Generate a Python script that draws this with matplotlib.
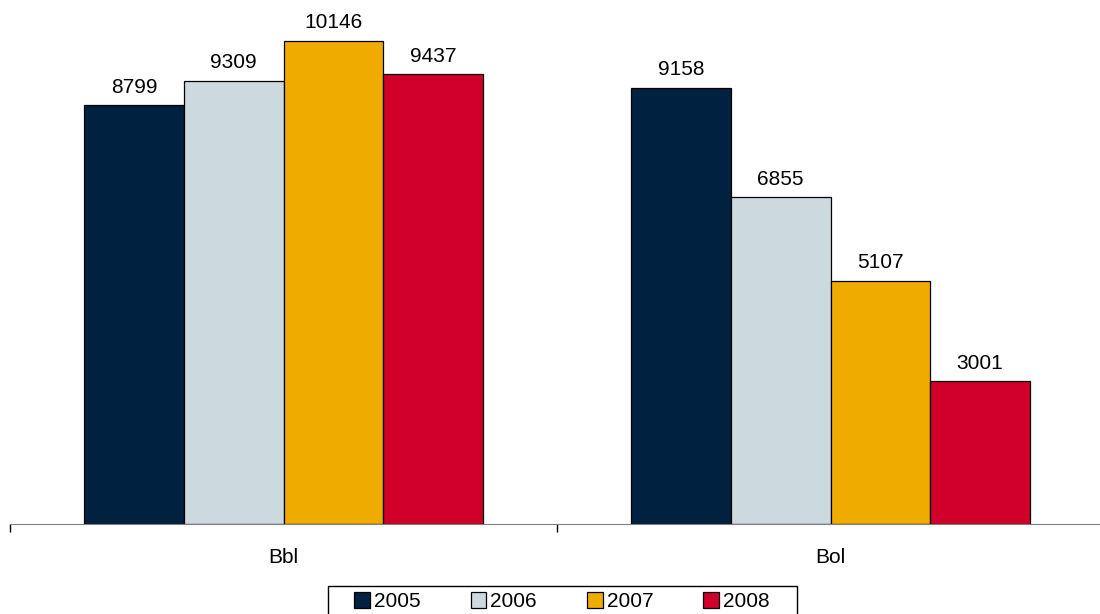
import matplotlib.pyplot as plt
from matplotlib.patches import Rectangle
import numpy as np

plt.rcParams['font.family'] = ['Liberation Sans', 'DejaVu Sans']

categories = ['Bbl', 'Bol']
years = ['2005', '2006', '2007', '2008']
values = {
    '2005': [8799, 9158],
    '2006': [9309, 6855],
    '2007': [10146, 5107],
    '2008': [9437, 3001],
}
colors = ['#00213F', '#CCDADF', '#F0AB00', '#D0002B']

fig = plt.figure(figsize=(11, 6.14), dpi=100)
ax = fig.add_axes([10 / 1100, 90 / 614, 1094 / 1100, 524 / 614])

x = np.arange(len(categories))
w = 0.182
for i, (yr, c) in enumerate(zip(years, colors)):
    pos = x + (i - 1.5) * w
    bars = ax.bar(pos, values[yr], w, color=c, edgecolor='black', linewidth=0.9, label=yr)
    for b, v in zip(bars, values[yr]):
        ax.annotate(str(v), (b.get_x() + b.get_width() / 2, v), xytext=(0, 6),
                    textcoords='offset points', ha='center', va='bottom', fontsize=15)

ax.set_xlim(-0.5, 1.5)
ax.set_ylim(0, 11000)
ax.set_yticks([])
for s in ['top', 'right', 'left']:
    ax.spines[s].set_visible(False)
ax.spines['bottom'].set_color('#808080')
ax.set_xticks(x)
ax.set_xticklabels(categories, fontsize=15)
ax.tick_params(axis='x', which='major', length=0, pad=17)
ax.set_xticks([-0.5, 0.5, 1.5], minor=True)
ax.tick_params(axis='x', which='minor', length=6, color='black', width=1)

# legend box (frame drawn separately, wider than the entries)
fig.patches.append(Rectangle((328 / 1100, -0.02), 469 / 1100, 28 / 614 + 0.02,
                             transform=fig.transFigure, facecolor='white',
                             edgecolor='black', linewidth=1, zorder=0))
leg = fig.legend(loc='upper center', bbox_to_anchor=(562 / 1100, 28 / 614), ncol=4,
                 fontsize=15, frameon=False,
                 handlelength=0.75, handleheight=0.75, handletextpad=0.2, columnspacing=2.4,
                 borderpad=0.3, borderaxespad=0)

fig.savefig('out.png', dpi=100)
